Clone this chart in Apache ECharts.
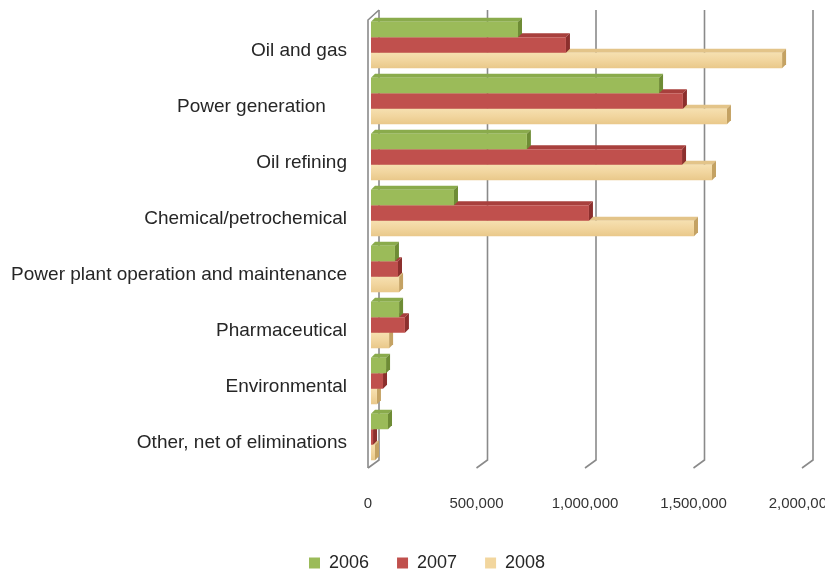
<!DOCTYPE html>
<html>
<head>
<meta charset="utf-8">
<script src="https://cdn.jsdelivr.net/npm/echarts@6/dist/echarts.min.js"></script>
<style>html,body{margin:0;padding:0;background:#fff}#c{width:825px;height:575px}</style>
</head>
<body>
<div id="c"></div>
<script>
const categories = ["Oil and gas", "Power generation    ", "Oil refining", "Chemical/petrochemical",
  "Power plant operation and maintenance", "Pharmaceutical", "Environmental", "Other, net of eliminations"];
const years = ["2006", "2007", "2008"];
const values2006 = [682000, 1332000, 723000, 387000, 115000, 134000, 74000, 83000];
const values2007 = [903000, 1442000, 1438000, 1009000, 129000, 161000, 60000, 14000];
const values2008 = [1899000, 1645000, 1576000, 1493000, 134000, 88000, 32000, 23000];
const xTicks = [0, 500000, 1000000, 1500000, 2000000];

const palette = [
  {front: '#9bbb59', top: '#8aab4c', side: '#6e8c35', legend: '#9bbb59'},
  {front: '#c0504d', top: '#a8403d', side: '#8c2f2d', legend: '#c0504d'},
  {front: new echarts.graphic.LinearGradient(0,0,0,1,[{offset:0,color:'#f6e0b0'},{offset:0.5,color:'#f1d59e'},{offset:1,color:'#e9c88a'}]),
   top: '#e3c489', side: '#c4a263', legend: '#f2d69e'}
];

function barRenderer(si) {
  return function (params, api) {
    const cat = api.value(1), val = api.value(0);
    const start = api.coord([0, cat]);
    const end = api.coord([val, cat]);
    const band = api.size([0, 1])[1];
    const bw = band * 0.277;
    const top = start[1] - 1.5 * bw + si * bw;
    const x0 = start[0] + 1, x1 = Math.max(end[0], x0 + 1);
    const d = 4;
    const c = palette[si];
    return {
      type: 'group',
      children: [
        {type: 'polygon', shape: {points: [[x0, top], [x0 + d, top - d], [x1 + d, top - d], [x1, top]]}, style: {fill: c.top}},
        {type: 'polygon', shape: {points: [[x1, top], [x1 + d, top - d], [x1 + d, top + bw - d], [x1, top + bw]]}, style: {fill: c.side}},
        {type: 'rect', shape: {x: x0, y: top, width: x1 - x0, height: bw}, style: {fill: c.front}}
      ]
    };
  };
}

function wallRenderer(params, api) {
  const v = api.value(0);
  const x = api.coord([v, 0])[0];
  const cs = params.coordSys;
  const top = cs.y, bottom = cs.y + cs.height;
  const style = {stroke: '#8a8a8a', lineWidth: 1.6, fill: null};
  const children = [
    {type: 'polyline', shape: {points: [[x + 9, top - 7], [x + 9, bottom - 5], [x - 2, bottom + 3]]}, style: style}
  ];
  if (v === 0) {
    children.push({type: 'polyline', shape: {points: [[x + 9, top - 7], [x - 2, top + 3], [x - 2, bottom + 3]]}, style: style});
  }
  return {type: 'group', children: children};
}

const seriesValues = [values2006, values2007, values2008];
const series = [{
  type: 'custom', name: 'wall', silent: true, z: 1,
  renderItem: wallRenderer,
  encode: {x: 0, y: 1},
  data: xTicks.map(v => [v, 0])
}];
years.forEach((y, si) => {
  series.push({
    type: 'custom', name: y, z: 5 - si,
    renderItem: barRenderer(si),
    encode: {x: 0, y: 1},
    itemStyle: {color: palette[si].legend},
    data: seriesValues[si].map((v, i) => [v, i])
  });
});

const chart = echarts.init(document.getElementById('c'), null, {renderer: 'canvas'});
chart.setOption({
  animation: false,
  backgroundColor: '#ffffff',
  grid: {left: 370, right: 21, top: 17, bottom: 110, containLabel: false, outerBoundsMode: 'none'},
  xAxis: {
    type: 'value', min: 0, max: 2000000, interval: 500000,
    axisLine: {show: false}, axisTick: {show: false}, splitLine: {show: false},
    axisLabel: {
      margin: 31, color: '#333', fontFamily: 'Liberation Sans', fontSize: 15,
      padding: [0, 4, 0, 0], hideOverlap: false,
      formatter: v => v.toLocaleString('en-US')
    }
  },
  yAxis: {
    type: 'category', inverse: true, data: categories,
    axisLine: {show: false}, axisTick: {show: false}, splitLine: {show: false},
    axisLabel: {margin: 23, color: '#262626', fontFamily: 'Liberation Sans', fontSize: 19,
      verticalAlign: 'top', lineHeight: 12}
  },
  legend: {
    data: years, left: 304, top: 549, itemWidth: 11, itemHeight: 11, itemGap: 28, icon: 'rect',
    textStyle: {fontFamily: 'Liberation Sans', fontSize: 18, color: '#262626', padding: [0, 0, 0, 4]}
  },
  series: series
});
</script>
</body>
</html>
